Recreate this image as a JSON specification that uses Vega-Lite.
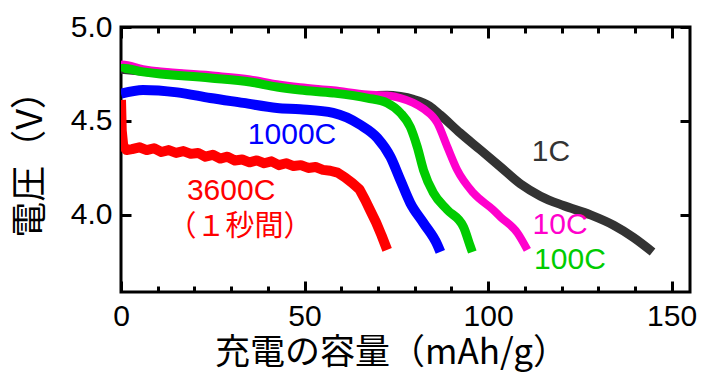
{
  "$schema": "https://vega.github.io/schema/vega-lite/v6.json",
  "width": 569,
  "height": 265,
  "autosize": "none",
  "padding": {"left": 121, "top": 27, "right": 11, "bottom": 80},
  "background": "white",
  "config": {
    "view": {"stroke": "black", "strokeWidth": 3},
    "axis": {"domain": false, "grid": false, "tickColor": "black", "tickWidth": 3, "labelColor": "black", "labelFont": "Liberation Sans", "labelFontSize": 30, "titleColor": "black", "titleFontWeight": "normal"}
  },
  "datasets": {
    "curves": [
      {"series": "1C", "x": 0, "y": 4.775},
      {"series": "1C", "x": 6, "y": 4.765},
      {"series": "1C", "x": 24.3, "y": 4.735},
      {"series": "1C", "x": 35.2, "y": 4.713},
      {"series": "1C", "x": 42.5, "y": 4.687},
      {"series": "1C", "x": 48.8, "y": 4.671},
      {"series": "1C", "x": 57.8, "y": 4.655},
      {"series": "1C", "x": 67.1, "y": 4.633},
      {"series": "1C", "x": 72.5, "y": 4.637},
      {"series": "1C", "x": 76.1, "y": 4.63},
      {"series": "1C", "x": 79.6, "y": 4.615},
      {"series": "1C", "x": 84, "y": 4.58},
      {"series": "1C", "x": 87, "y": 4.532},
      {"series": "1C", "x": 92.4, "y": 4.436},
      {"series": "1C", "x": 97.9, "y": 4.346},
      {"series": "1C", "x": 103.4, "y": 4.255},
      {"series": "1C", "x": 108.8, "y": 4.165},
      {"series": "1C", "x": 114.3, "y": 4.1},
      {"series": "1C", "x": 120.5, "y": 4.05},
      {"series": "1C", "x": 127.9, "y": 4.0},
      {"series": "1C", "x": 134.2, "y": 3.945},
      {"series": "1C", "x": 139.6, "y": 3.88},
      {"series": "1C", "x": 144.8, "y": 3.803},
      {"series": "10C", "x": 0, "y": 4.78},
      {"series": "10C", "x": 0.4, "y": 4.8},
      {"series": "10C", "x": 6, "y": 4.775},
      {"series": "10C", "x": 24.3, "y": 4.743},
      {"series": "10C", "x": 35.2, "y": 4.721},
      {"series": "10C", "x": 42.5, "y": 4.695},
      {"series": "10C", "x": 48.8, "y": 4.679},
      {"series": "10C", "x": 57.8, "y": 4.663},
      {"series": "10C", "x": 67.1, "y": 4.641},
      {"series": "10C", "x": 72.5, "y": 4.635},
      {"series": "10C", "x": 76.1, "y": 4.622},
      {"series": "10C", "x": 79.5, "y": 4.598},
      {"series": "10C", "x": 82.4, "y": 4.565},
      {"series": "10C", "x": 86.2, "y": 4.489},
      {"series": "10C", "x": 88.9, "y": 4.362},
      {"series": "10C", "x": 91.6, "y": 4.239},
      {"series": "10C", "x": 96, "y": 4.117},
      {"series": "10C", "x": 101.4, "y": 4.027},
      {"series": "10C", "x": 103.4, "y": 3.989},
      {"series": "10C", "x": 108, "y": 3.904},
      {"series": "10C", "x": 110.7, "y": 3.814},
      {"series": "100C", "x": 0, "y": 4.765},
      {"series": "100C", "x": 0.5, "y": 4.78},
      {"series": "100C", "x": 6, "y": 4.761},
      {"series": "100C", "x": 24.3, "y": 4.729},
      {"series": "100C", "x": 35.2, "y": 4.707},
      {"series": "100C", "x": 42.5, "y": 4.681},
      {"series": "100C", "x": 48.8, "y": 4.665},
      {"series": "100C", "x": 57.8, "y": 4.649},
      {"series": "100C", "x": 67.1, "y": 4.622},
      {"series": "100C", "x": 72.5, "y": 4.596},
      {"series": "100C", "x": 76.1, "y": 4.543},
      {"series": "100C", "x": 78.8, "y": 4.468},
      {"series": "100C", "x": 80.7, "y": 4.362},
      {"series": "100C", "x": 82.4, "y": 4.239},
      {"series": "100C", "x": 85.1, "y": 4.117},
      {"series": "100C", "x": 88.9, "y": 4.027},
      {"series": "100C", "x": 93.3, "y": 3.936},
      {"series": "100C", "x": 95.2, "y": 3.83},
      {"series": "100C", "x": 95.7, "y": 3.803},
      {"series": "1000C", "x": 0, "y": 4.645},
      {"series": "1000C", "x": 6, "y": 4.665},
      {"series": "1000C", "x": 15.3, "y": 4.652},
      {"series": "1000C", "x": 24.3, "y": 4.622},
      {"series": "1000C", "x": 33.3, "y": 4.596},
      {"series": "1000C", "x": 42.5, "y": 4.569},
      {"series": "1000C", "x": 48.8, "y": 4.562},
      {"series": "1000C", "x": 57.8, "y": 4.543},
      {"series": "1000C", "x": 65.2, "y": 4.479},
      {"series": "1000C", "x": 69.8, "y": 4.41},
      {"series": "1000C", "x": 73.4, "y": 4.309},
      {"series": "1000C", "x": 76.1, "y": 4.186},
      {"series": "1000C", "x": 78.8, "y": 4.064},
      {"series": "1000C", "x": 82.4, "y": 3.957},
      {"series": "1000C", "x": 86.2, "y": 3.84},
      {"series": "1000C", "x": 87, "y": 3.803},
      {"series": "3600C", "x": 0, "y": 4.612},
      {"series": "3600C", "x": 0.2, "y": 4.45},
      {"series": "3600C", "x": 0.6, "y": 4.37},
      {"series": "3600C", "x": 1.5, "y": 4.345},
      {"series": "3600C", "x": 3, "y": 4.35},
      {"series": "3600C", "x": 5, "y": 4.36},
      {"series": "3600C", "x": 7, "y": 4.345},
      {"series": "3600C", "x": 9, "y": 4.355},
      {"series": "3600C", "x": 11, "y": 4.335},
      {"series": "3600C", "x": 13, "y": 4.345},
      {"series": "3600C", "x": 15, "y": 4.33},
      {"series": "3600C", "x": 17, "y": 4.34},
      {"series": "3600C", "x": 19, "y": 4.325},
      {"series": "3600C", "x": 21, "y": 4.33},
      {"series": "3600C", "x": 23, "y": 4.31},
      {"series": "3600C", "x": 25, "y": 4.32},
      {"series": "3600C", "x": 27, "y": 4.3},
      {"series": "3600C", "x": 29, "y": 4.31},
      {"series": "3600C", "x": 31, "y": 4.29},
      {"series": "3600C", "x": 33, "y": 4.295},
      {"series": "3600C", "x": 35, "y": 4.28},
      {"series": "3600C", "x": 37, "y": 4.29},
      {"series": "3600C", "x": 39, "y": 4.275},
      {"series": "3600C", "x": 41, "y": 4.285},
      {"series": "3600C", "x": 43, "y": 4.265},
      {"series": "3600C", "x": 45, "y": 4.275},
      {"series": "3600C", "x": 47, "y": 4.26},
      {"series": "3600C", "x": 49, "y": 4.265},
      {"series": "3600C", "x": 51, "y": 4.25},
      {"series": "3600C", "x": 53, "y": 4.255},
      {"series": "3600C", "x": 55, "y": 4.24},
      {"series": "3600C", "x": 57, "y": 4.235},
      {"series": "3600C", "x": 59, "y": 4.225},
      {"series": "3600C", "x": 61, "y": 4.2},
      {"series": "3600C", "x": 63, "y": 4.17},
      {"series": "3600C", "x": 65, "y": 4.135},
      {"series": "3600C", "x": 66.5, "y": 4.08},
      {"series": "3600C", "x": 68, "y": 4.02},
      {"series": "3600C", "x": 69.5, "y": 3.96},
      {"series": "3600C", "x": 71, "y": 3.89},
      {"series": "3600C", "x": 72.5, "y": 3.814}
    ],
    "labels": [
      {"series": "1000C", "text": "1000C", "x": 46.6, "y": 4.426},
      {"series": "3600C", "text": "3600C", "x": 30.0, "y": 4.128},
      {"series": "1C", "text": "1C", "x": 117.1, "y": 4.335},
      {"series": "10C", "text": "10C", "x": 119.6, "y": 3.944},
      {"series": "100C", "text": "100C", "x": 122.3, "y": 3.761}
    ],
    "notes": [
      {"series": "3600C", "text": "（１秒間）", "x": 32.4, "y": 3.938}
    ]
  },
  "layer": [
    {
      "data": {"name": "curves"},
      "transform": [{"filter": "datum.series === '1C'"}],
      "mark": {"type": "line", "strokeWidth": 9, "strokeCap": "butt", "strokeJoin": "round", "interpolate": "monotone", "clip": true},
      "encoding": {
        "x": {"field": "x", "type": "quantitative", "scale": {"domain": [0, 155], "nice": false},
          "axis": {"orient": "bottom", "values": [0,10,20,30,40,50,60,70,80,90,100,110,120,130,140,150],
            "labelExpr": "datum.value % 50 === 0 ? datum.label : ''",
            "tickSize": {"condition": {"test": "datum.value % 50 === 0", "value": -11}, "value": -6},
            "labelPadding": 20, "labelFlush": false, "labelOverlap": false,
            "title": "充電の容量（mAh/g）", "titleFont": "Noto Sans CJK JP", "titleFontSize": 35, "titleX": 270, "titleY": 43, "titleBaseline": "top"}},
        "y": {"field": "y", "type": "quantitative", "scale": {"domain": [3.59, 5.0], "nice": false, "zero": false},
          "axis": {"orient": "left", "values": [4.0, 4.5, 5.0], "format": ".1f", "tickSize": -10, "labelPadding": 19, "labelFlush": false, "labelOverlap": false,
            "title": "電圧（V）", "titleFont": "Noto Sans CJK JP", "titleFontSize": 36, "titleX": -91, "titleY": 128, "titleBaseline": "middle"}},
        "color": {"field": "series", "type": "nominal", "scale": {"domain": ["1C", "10C", "100C", "1000C", "3600C"], "range": ["#333333", "#ff00cc", "#00cc00", "#0000ff", "#ff0000"]}, "legend": null}
      }
    },
    {
      "data": {"name": "curves"},
      "transform": [{"filter": "datum.series === '10C'"}],
      "mark": {"type": "line", "strokeWidth": 8, "strokeCap": "butt", "strokeJoin": "round", "interpolate": "monotone", "clip": true},
      "encoding": {
        "x": {"field": "x", "type": "quantitative", "axis": null},
        "y": {"field": "y", "type": "quantitative", "axis": null},
        "color": {"field": "series", "type": "nominal", "legend": null}
      }
    },
    {
      "data": {"name": "curves"},
      "transform": [{"filter": "datum.series === '100C'"}],
      "mark": {"type": "line", "strokeWidth": 9, "strokeCap": "butt", "strokeJoin": "round", "interpolate": "monotone", "clip": true},
      "encoding": {
        "x": {"field": "x", "type": "quantitative", "axis": null},
        "y": {"field": "y", "type": "quantitative", "axis": null},
        "color": {"field": "series", "type": "nominal", "legend": null}
      }
    },
    {
      "data": {"name": "curves"},
      "transform": [{"filter": "datum.series === '1000C'"}],
      "mark": {"type": "line", "strokeWidth": 10, "strokeCap": "butt", "strokeJoin": "round", "interpolate": "monotone", "clip": true},
      "encoding": {
        "x": {"field": "x", "type": "quantitative", "axis": null},
        "y": {"field": "y", "type": "quantitative", "axis": null},
        "color": {"field": "series", "type": "nominal", "legend": null}
      }
    },
    {
      "data": {"name": "curves"},
      "transform": [{"filter": "datum.series === '3600C'"}],
      "mark": {"type": "line", "strokeWidth": 10, "strokeCap": "butt", "strokeJoin": "round", "clip": true},
      "encoding": {
        "x": {"field": "x", "type": "quantitative", "axis": null},
        "y": {"field": "y", "type": "quantitative", "axis": null},
        "color": {"field": "series", "type": "nominal", "legend": null}
      }
    },
    {
      "data": {"name": "labels"},
      "mark": {"type": "text", "font": "Liberation Sans", "fontSize": 30, "align": "center", "baseline": "middle"},
      "encoding": {
        "x": {"field": "x", "type": "quantitative",
          "axis": {"orient": "top", "values": [0,10,20,30,40,50,60,70,80,90,100,110,120,130,140,150], "labels": false, "title": null,
            "tickSize": {"condition": {"test": "datum.value % 50 === 0", "value": -11}, "value": -6}}},
        "y": {"field": "y", "type": "quantitative",
          "axis": {"orient": "right", "values": [4.0, 4.5, 5.0], "labels": false, "title": null, "tickSize": -10}},
        "text": {"field": "text"},
        "color": {"field": "series", "type": "nominal", "legend": null}
      }
    },
    {
      "data": {"name": "notes"},
      "mark": {"type": "text", "font": "Noto Sans CJK JP", "fontSize": 29, "align": "center", "baseline": "middle"},
      "encoding": {
        "x": {"field": "x", "type": "quantitative", "axis": null},
        "y": {"field": "y", "type": "quantitative", "axis": null},
        "text": {"field": "text"},
        "color": {"field": "series", "type": "nominal", "legend": null}
      }
    }
  ],
  "resolve": {"axis": {"x": "independent", "y": "independent"}}
}
